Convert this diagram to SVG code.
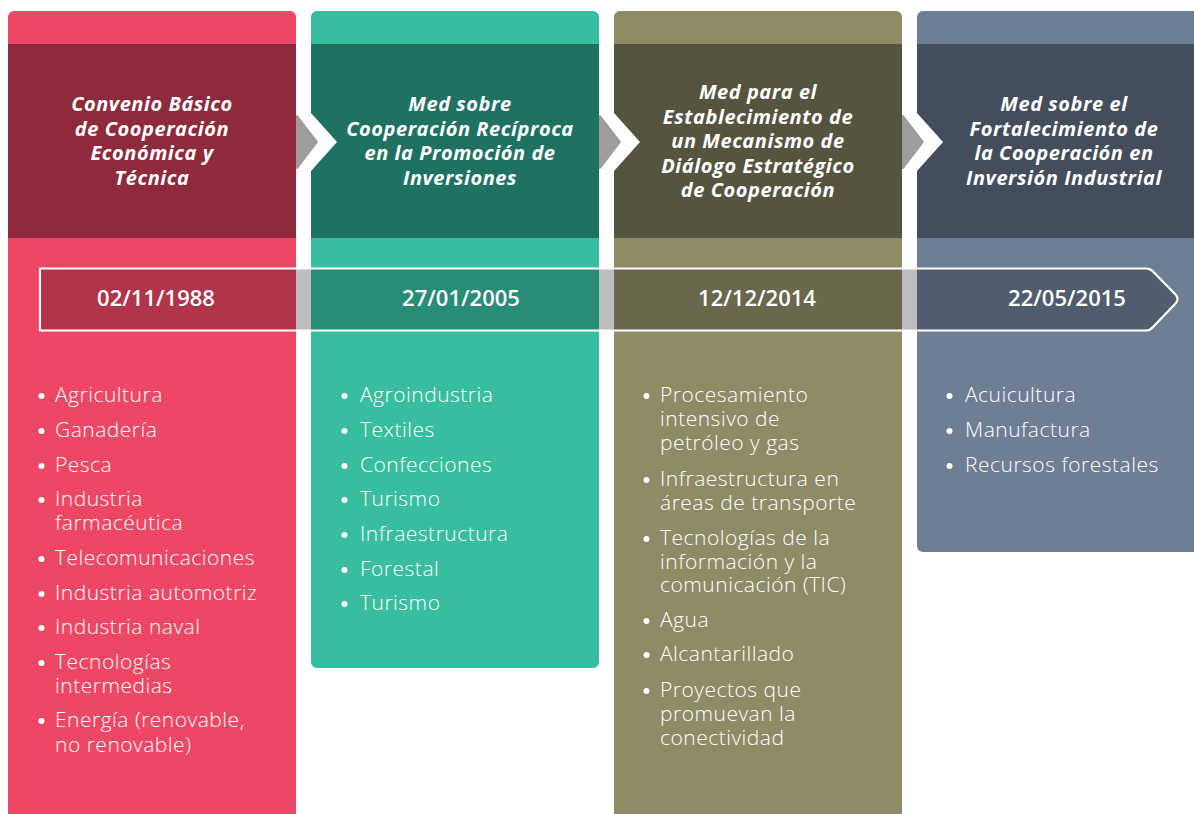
<svg xmlns="http://www.w3.org/2000/svg" width="1194" height="814" viewBox="0 0 1194 814">
<style>
.hd{font-family:"Open Sans","Liberation Sans",sans-serif;font-weight:700;font-style:italic;font-size:20px;letter-spacing:0.55px;fill:#ffffff;text-anchor:middle}
.dt{font-family:"Open Sans","Liberation Sans",sans-serif;font-weight:600;font-size:22px;fill:#ffffff;text-anchor:middle}
.li{font-family:"Open Sans","Liberation Sans",sans-serif;font-weight:300;font-size:21px;letter-spacing:0.5px;fill:#ffffff}
.bl{fill:#ffffff}
.gray{fill:#9e9d9e;stroke:#9e9d9e;stroke-width:2;stroke-linejoin:round}
.cut{fill:#ffffff}
</style>
<rect width="1194" height="814" fill="#ffffff"/>

<g id="col1">
<rect x="8" y="11" width="288" height="830" rx="6" fill="#ee4765"/>
<rect x="8" y="44" width="288" height="194" fill="#8e2a3b"/>
<text class="hd" x="152" y="111">Convenio Básico</text>
<text class="hd" x="152" y="135.5">de Cooperación</text>
<text class="hd" x="152" y="160">Económica y</text>
<text class="hd" x="152" y="184.5">Técnica</text>
<g class="li">
<text x="55" y="402">Agricultura</text>
<text x="55" y="437">Ganadería</text>
<text x="55" y="472">Pesca</text>
<text x="55" y="506">Industria</text>
<text x="55" y="530">farmacéutica</text>
<text x="55" y="565">Telecomunicaciones</text>
<text x="55" y="600">Industria automotriz</text>
<text x="55" y="634">Industria naval</text>
<text x="55" y="669">Tecnologías</text>
<text x="55" y="693">intermedias</text>
<text x="55" y="727">Energía (renovable,</text>
<text x="55" y="752">no renovable)</text>
</g>
<g class="bl">
<circle cx="41.5" cy="396" r="3"/><circle cx="41.5" cy="431" r="3"/><circle cx="41.5" cy="466" r="3"/><circle cx="41.5" cy="500" r="3"/><circle cx="41.5" cy="559" r="3"/><circle cx="41.5" cy="594" r="3"/><circle cx="41.5" cy="628" r="3"/><circle cx="41.5" cy="663" r="3"/><circle cx="41.5" cy="721" r="3"/>
</g>
</g>

<g id="col2">
<rect x="311" y="11" width="288" height="657" rx="6" fill="#38bda0"/>
<rect x="311" y="44" width="288" height="194" fill="#1f7262"/>
<text class="hd" x="460" y="111">Med sobre</text>
<text class="hd" x="460" y="135.5">Cooperación Recíproca</text>
<text class="hd" x="460" y="160">en la Promoción de</text>
<text class="hd" x="460" y="184.5">Inversiones</text>
<g class="li">
<text x="360" y="402">Agroindustria</text>
<text x="360" y="437">Textiles</text>
<text x="360" y="472">Confecciones</text>
<text x="360" y="506">Turismo</text>
<text x="360" y="541">Infraestructura</text>
<text x="360" y="576">Forestal</text>
<text x="360" y="610">Turismo</text>
</g>
<g class="bl">
<circle cx="344.5" cy="396" r="3"/><circle cx="344.5" cy="431" r="3"/><circle cx="344.5" cy="466" r="3"/><circle cx="344.5" cy="500" r="3"/><circle cx="344.5" cy="535" r="3"/><circle cx="344.5" cy="570" r="3"/><circle cx="344.5" cy="604" r="3"/>
</g>
</g>

<g id="col3">
<rect x="614" y="11" width="288" height="830" rx="6" fill="#8e8b67"/>
<rect x="614" y="44" width="288" height="194" fill="#55543f"/>
<text class="hd" x="758" y="99">Med para el</text>
<text class="hd" x="758" y="123.5">Establecimiento de</text>
<text class="hd" x="758" y="148">un Mecanismo de</text>
<text class="hd" x="758" y="172.5">Diálogo Estratégico</text>
<text class="hd" x="758" y="197">de Cooperación</text>
<g class="li">
<text x="660" y="402">Procesamiento</text>
<text x="660" y="426">intensivo de</text>
<text x="660" y="450">petróleo y gas</text>
<text x="660" y="486">Infraestructura en</text>
<text x="660" y="510">áreas de transporte</text>
<text x="660" y="545">Tecnologías de la</text>
<text x="660" y="569">información y la</text>
<text x="660" y="592">comunicación (TIC)</text>
<text x="660" y="627">Agua</text>
<text x="660" y="661">Alcantarillado</text>
<text x="660" y="697">Proyectos que</text>
<text x="660" y="721">promuevan la</text>
<text x="660" y="745">conectividad</text>
</g>
<g class="bl">
<circle cx="646.5" cy="396" r="3"/><circle cx="646.5" cy="480" r="3"/><circle cx="646.5" cy="539" r="3"/><circle cx="646.5" cy="621" r="3"/><circle cx="646.5" cy="655" r="3"/><circle cx="646.5" cy="691" r="3"/>
</g>
</g>

<g id="col4">
<rect x="917" y="11" width="300" height="541" rx="6" fill="#6e7e95"/>
<rect x="917" y="44" width="300" height="194" fill="#444d5c"/>
<text class="hd" x="1064" y="111">Med sobre el</text>
<text class="hd" x="1064" y="135.5">Fortalecimiento de</text>
<text class="hd" x="1064" y="160">la Cooperación en</text>
<text class="hd" x="1064" y="184.5">Inversión Industrial</text>
<g class="li">
<text x="965" y="402">Acuicultura</text>
<text x="965" y="437">Manufactura</text>
<text x="965" y="472">Recursos forestales</text>
</g>
<g class="bl">
<circle cx="949.5" cy="396" r="3"/><circle cx="949.5" cy="431" r="3"/><circle cx="949.5" cy="466" r="3"/>
</g>
</g>

<g id="connectors">
<polygon class="cut" points="311,113 337,142 311,171"/>
<polygon class="gray" points="297,116 317,142 297,168"/>
<polygon class="cut" points="614,113 640,142 614,171"/>
<polygon class="gray" points="600,116 620,142 600,168"/>
<polygon class="cut" points="917,113 943,142 917,171"/>
<polygon class="gray" points="903,116 923,142 903,168"/>
</g>

<g id="timeline">
<path d="M40,268.5 H1146 Q1150,268.5 1153,271.5 L1176,295 Q1179,299 1176,303 L1153,327 Q1150,330.5 1146,330.5 H40 Z" fill="#000000" fill-opacity="0.26" stroke="#ffffff" stroke-width="2.2" stroke-linejoin="round"/>
<text class="dt" x="156" y="306">02/11/1988</text>
<text class="dt" x="461" y="306">27/01/2005</text>
<text class="dt" x="757" y="306">12/12/2014</text>
<text class="dt" x="1067" y="306">22/05/2015</text>
</g>
</svg>
